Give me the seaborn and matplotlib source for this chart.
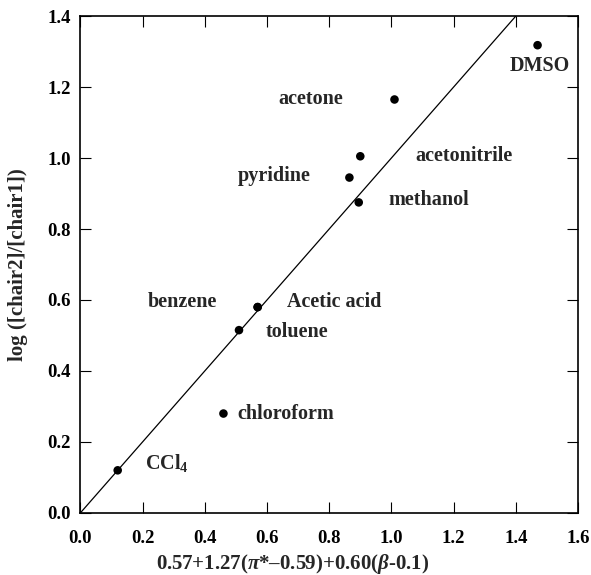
import numpy as np
import pandas as pd
import seaborn as sns
import matplotlib as mpl
mpl.use('Agg')
import matplotlib.pyplot as plt

# solvent data
solvents = ['CCl$_4$', 'chloroform', 'toluene', 'Acetic acid', 'benzene', 'pyridine',
            'methanol', 'acetonitrile', 'acetone', 'DMSO']
x_calc = [0.12, 0.46, 0.51, 0.57, 0.57, 0.865, 0.895, 0.90, 1.01, 1.47]
y_obs = [0.12, 0.28, 0.515, 0.58, 0.58, 0.945, 0.875, 1.005, 1.165, 1.318]
# benzene and Acetic acid share a point; label offsets (points)
label_dx = [20, 10, 19, 21, -29, -28, 21.5, 40, -37, 1.5]
label_dy = [5, 0, -1.5, 4, 4, 1, 1.5, 0, 0, -15]
label_ha = ['left', 'left', 'left', 'left', 'right', 'right', 'left', 'left', 'right', 'center']

line_x = [0.0, 1.4]
line_y = [0.0, 1.4]

sns.set_style('ticks')
plt.rcParams['font.family'] = ['Liberation Serif', 'DejaVu Serif']
plt.rcParams['font.weight'] = 'bold'
plt.rcParams['mathtext.fontset'] = 'custom'
plt.rcParams['mathtext.rm'] = 'Liberation Serif:bold'
plt.rcParams['mathtext.it'] = 'Liberation Serif:italic:bold'
plt.rcParams['mathtext.bf'] = 'Liberation Serif:bold'

df = pd.DataFrame({'x': x_calc, 'y': y_obs, 'solvent': solvents})

fig = plt.figure(figsize=(5.91, 5.75), dpi=100)
ax = fig.add_axes([0.136, 0.108, 0.842, 0.864])

sns.lineplot(x=line_x, y=line_y, ax=ax, color='black', linewidth=0.9)
sns.scatterplot(data=df, x='x', y='y', ax=ax, color='black', s=38, edgecolor='none', zorder=3)

for i, row in df.iterrows():
    ax.annotate(row['solvent'], (row['x'], row['y']), xytext=(label_dx[i], label_dy[i]),
                textcoords='offset points', ha=label_ha[i], va='center',
                fontsize=14.5, fontweight='bold')

ax.set_xlim(0, 1.6)
ax.set_ylim(0, 1.4)
ax.set_xticks(np.arange(0, 1.61, 0.2))
ax.set_yticks(np.arange(0, 1.41, 0.2))
ax.set_xticklabels(['{:.1f}'.format(v) for v in np.arange(0, 1.61, 0.2)])
ax.set_yticklabels(['{:.1f}'.format(v) for v in np.arange(0, 1.41, 0.2)])
ax.tick_params(direction='in', length=8, width=0.8, top=True, right=True,
               labelsize=13.5, colors='black')
ax.tick_params(axis='x', pad=12)
ax.tick_params(axis='y', pad=7)
for lab in ax.get_xticklabels() + ax.get_yticklabels():
    lab.set_fontweight('bold')
for sp in ax.spines.values():
    sp.set_linewidth(1.2)
    sp.set_color('black')

ax.set_xlabel(r'0.57+1.27($\pi$*–0.59)+0.60($\beta$-0.1)', fontsize=15, fontweight='bold')
ax.xaxis.set_label_coords(0.426, -0.078)
ax.set_ylabel('log ([chair2]/[chair1])', fontsize=15, fontweight='bold')
ax.yaxis.set_label_coords(-0.105, 0.5)

fig.savefig('out.png', dpi=100)
plt.close()
